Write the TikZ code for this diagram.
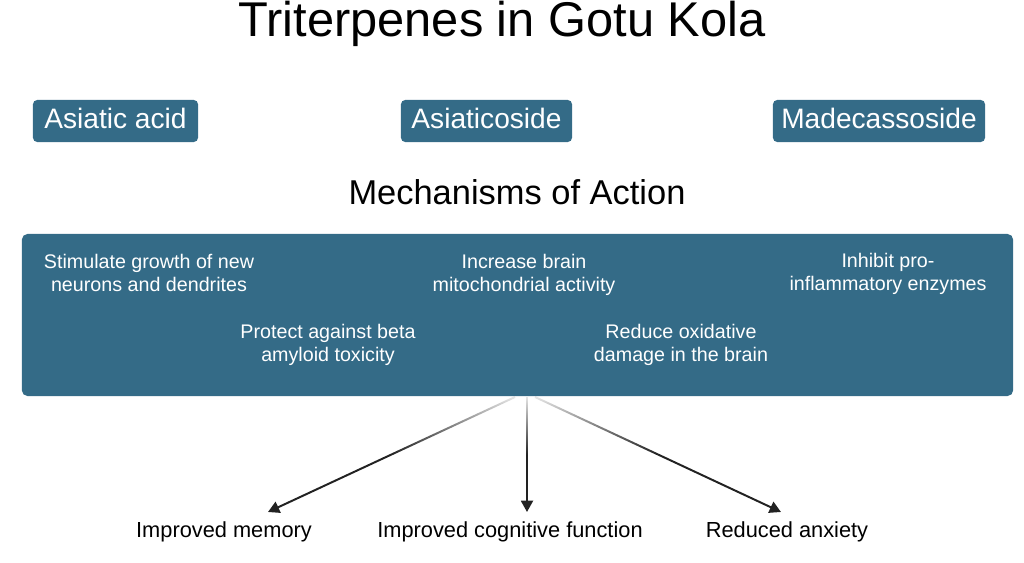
\documentclass[tikz,border=0pt]{standalone}
\usepackage{fontspec}
\setmainfont{Liberation Sans}
\usetikzlibrary{arrows.meta,fadings,positioning}

\definecolor{kolablue}{RGB}{52,107,135}
\definecolor{arrowgray}{RGB}{34,34,34}
\tikzfading[name=arrowfade, top color=transparent!90, bottom color=transparent!0, middle color=transparent!0]

\begin{document}
\begin{tikzpicture}
    [x=0.025cm, y=-0.025cm,
    compound/.style={fill=kolablue,rounded corners=3pt,text=white,font=\fontsize{20}{24}\selectfont,
      minimum height=1.05cm,inner sep=0pt,text height=14pt,text depth=4pt},
    mechanism/.style={text=white,align=center,font=\fontsize{14}{16.4}\selectfont,inner sep=0pt},
    outcome/.style={anchor=base,font=\fontsize{15.5}{18}\selectfont,inner sep=0pt},
    effect/.style={draw=arrowgray,line width=1.4pt,-{Triangle[length=8pt,width=8.5pt]},path fading=arrowfade}]
  \useasboundingbox (0,0) rectangle (1024,563);
  % title and the three compounds
  \node [anchor=base,font=\fontsize{34.7}{40}\selectfont,inner sep=0pt] (title) at (502,37) {Triterpenes in Gotu Kola};
  \node [compound,minimum width=4.125cm] (acid) at (115.5,121) {Asiatic acid};
  \node [compound,minimum width=4.275cm] (coside) at (486.5,121) {Asiaticoside};
  \node [compound,minimum width=5.3cm] (madeca) at (879,121) {Madecassoside};
  % mechanisms
  \node [anchor=base,font=\fontsize{24.5}{30}\selectfont,inner sep=0pt] (heading) at (517,205) {Mechanisms of Action};
  \node [fill=kolablue,rounded corners=4pt,minimum width=24.775cm,minimum height=4.05cm,inner sep=0pt] (mech) at (517.5,315) {};
  \node [mechanism] (growth) at (149,273) {Stimulate growth of new\\neurons and dendrites};
  \node [mechanism] (amyloid) at (328,345) {Protect against beta\\amyloid toxicity};
  \node [mechanism] (mito) at (524,275) {Increase brain\\mitochondrial activity};
  \node [mechanism] (oxid) at (681,345) {Reduce oxidative\\damage in the brain};
  \node [mechanism] (inflam) at (888,274) {Inhibit pro-\\inflammatory enzymes};
  % outcomes
  \node [outcome] (memory) at (224,537) {Improved memory};
  \node [outcome] (cognition) at (510,537) {Improved cognitive function};
  \node [outcome] (anxiety) at (787,537) {Reduced anxiety};
  \coordinate (fromL) at (515,397);
  \coordinate (fromM) at (527,397);
  \coordinate (fromR) at (535,397);
  \coordinate (toMemory) at (268,512);
  \coordinate (toCognition) at (527,512);
  \coordinate (toAnxiety) at (781,512);
  \draw [effect] (fromL) -- (toMemory);
  % the extra move-tos widen the box that the fading is fitted to
  \draw [effect] ([xshift=-6pt]fromM) ([xshift=6pt]fromM) (fromM) -- (toCognition);
  \draw [effect] (fromR) -- (toAnxiety);
\end{tikzpicture}
\end{document}
